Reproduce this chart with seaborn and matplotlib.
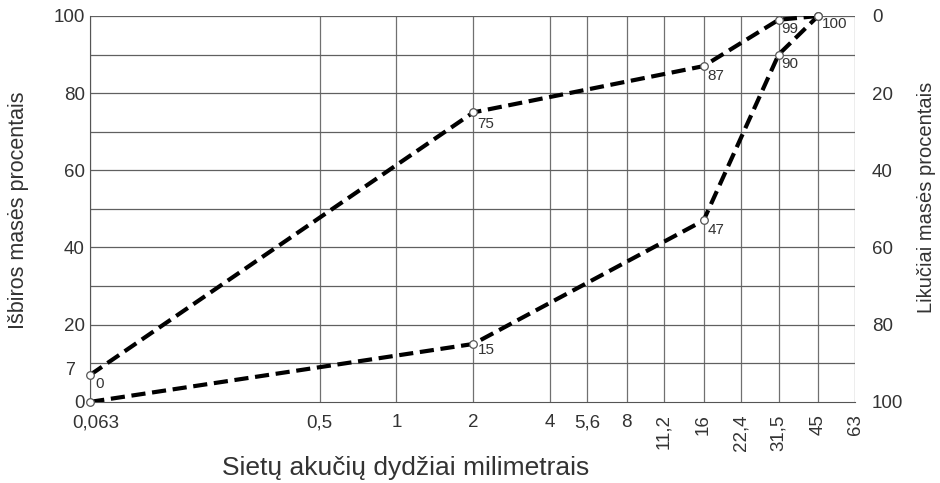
#Grading curves: passing / retained mass vs sieve size

import numpy as np
import pandas as pd
import seaborn as sns
import matplotlib.pyplot as plt
import matplotlib.transforms as mtrans
from matplotlib.ticker import FixedLocator, NullLocator

# sieve sizes (mm) and their tick labels
sieves = [0.063, 0.5, 1, 2, 4, 5.6, 8, 11.2, 16, 22.4, 31.5, 45, 63]
sieve_labels = ['0,063', '0,5', '1', '2', '4', '5,6', '8', '11,2', '16', '22,4', '31,5', '45', '63']

# upper curve
upper_x = [0.063, 2, 16, 31.5, 45]
upper_y = [7, 75, 87, 99, 100]
# lower curve
lower_x = [0.063, 2, 16, 31.5, 45]
lower_y = [0, 15, 47, 90, 100]

left_ticks = [0, 20, 40, 60, 80, 100]
right_ticks = [0, 20, 40, 60, 80, 100]

df = pd.concat([
    pd.DataFrame({'size': upper_x, 'pct': upper_y, 'curve': 'upper'}),
    pd.DataFrame({'size': lower_x, 'pct': lower_y, 'curve': 'lower'}),
])

sns.set_style('white')
plt.rcParams['font.family'] = ['Liberation Sans', 'DejaVu Sans']

fig, ax = plt.subplots(figsize=(9.4, 4.83), dpi=100)
fig.subplots_adjust(left=0.096, right=0.91, top=0.967, bottom=0.168)

ax.set_xscale('log')
ax.set_xlim(0.063, 63)
ax.set_ylim(0, 100)

# grid
for s in sieves:
    ax.axvline(s, color='#707070', lw=0.9, zorder=1)
for yv in range(10, 101, 10):
    ax.axhline(yv, color='#606060', lw=0.9, zorder=1)

sns.lineplot(data=df, x='size', y='pct', units='curve', estimator=None, sort=False,
             color='black', lw=3.0, ax=ax, zorder=3)
for line in ax.lines:
    if line.get_color() == 'black':
        line.set_dashes([3.4, 1.6])

sns.scatterplot(data=df, x='size', y='pct', s=30, color='white', edgecolor='#555555',
                linewidth=0.9, ax=ax, zorder=4, clip_on=False, legend=False)

# point labels
lab_kw = dict(ha='left', va='center', fontsize=11, color='#333333')
ax.text(0.055, 8, '7', ha='right', va='center', fontsize=13, color='#333333')
ax.text(0.066, 4.5, '0', **lab_kw)
ax.text(2.08, 72, '75', **lab_kw)
ax.text(16.6, 84.5, '87', **lab_kw)
ax.text(32.3, 96.5, '99', **lab_kw)
ax.text(46.5, 98, '100', **lab_kw)
ax.text(32.3, 87.5, '90', **lab_kw)
ax.text(16.6, 44.5, '47', **lab_kw)
ax.text(2.08, 13.5, '15', **lab_kw)

ax.xaxis.set_major_locator(FixedLocator(sieves))
ax.xaxis.set_minor_locator(NullLocator())
ax.set_xticklabels(sieve_labels)
for i, lab in enumerate(ax.get_xticklabels()):
    if sieves[i] > 10:
        lab.set_rotation(90)
        lab.set_va('top')
ax.set_yticks(left_ticks)
ax.tick_params(axis='y', labelsize=13.5, colors='#333333', length=0, pad=4)
ax.tick_params(axis='x', labelsize=13.5, colors='#333333', length=0, pad=9)
# first size label sits a little to the right
first = ax.get_xticklabels()[0]
first.set_transform(first.get_transform() + mtrans.ScaledTranslation(6 / 100, 0, fig.dpi_scale_trans))

ax.set_xlabel('Sietų akučių dydžiai milimetrais', fontsize=19, color='#333333')
ax.xaxis.set_label_coords(0.412, -0.171)
ax.xaxis.label.set_va('center')
ax.set_ylabel('Išbiros masės procentais', fontsize=15.5, color='#333333')
ax.yaxis.set_label_coords(-0.094, 0.497)
ax.yaxis.label.set_va('center')

ax2 = ax.twinx()
ax2.set_ylim(100, 0)
ax2.set_yticks(right_ticks)
ax2.tick_params(axis='y', labelsize=13.5, colors='#333333', length=0, pad=12)
ax2.set_ylabel('Likučiai masės procentais', fontsize=14.5, color='#333333')
ax2.yaxis.set_label_coords(1.093, 0.53)
ax2.yaxis.label.set_va('center')

for a in (ax, ax2):
    for side in ['top', 'right']:
        a.spines[side].set_visible(False)
    a.spines['left'].set_color('#555555')
    a.spines['bottom'].set_color('#555555')
ax2.spines['left'].set_visible(False)
ax2.spines['bottom'].set_visible(False)

fig.savefig('out.png', dpi=100)
